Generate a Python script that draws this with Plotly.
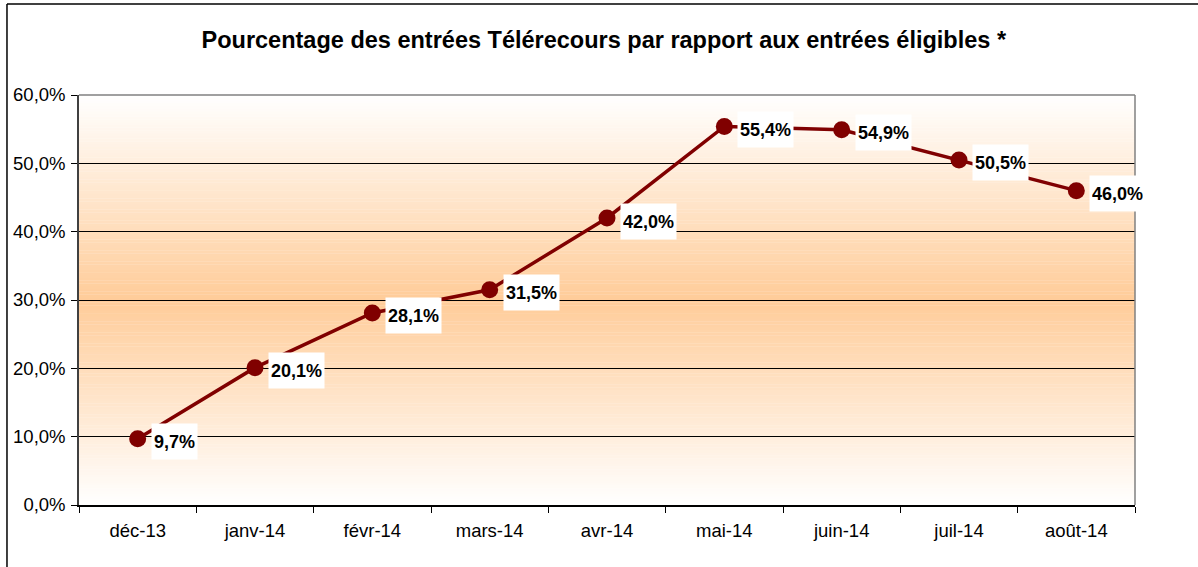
import plotly.graph_objects as go

categories = ["déc-13", "janv-14", "févr-14", "mars-14", "avr-14",
              "mai-14", "juin-14", "juil-14", "août-14"]
values = [0.097, 0.201, 0.281, 0.315, 0.420, 0.554, 0.549, 0.505, 0.460]
y_ticks = [0.0, 0.1, 0.2, 0.3, 0.4, 0.5, 0.6]
title_text = "Pourcentage des entrées Télérecours par rapport aux entrées éligibles *"

FONT = "Liberation Sans, Arial, sans-serif"

fig = go.Figure()
fig.add_trace(go.Scatter(
    x=categories, y=values, mode="lines+markers",
    line=dict(color="#800000", width=3.5),
    marker=dict(color="#800000", size=17),
    hoverinfo="skip", showlegend=False,
))

# gradient background: white at edges -> peach at middle
shapes = []
n = 150
for i in range(n):
    y0 = 0.6 * i / n
    y1 = 0.6 * (i + 1) / n
    mid = (y0 + y1) / 2
    t = 1 - abs(mid - 0.3) / 0.3
    r = 255
    g = round(255 - t * (255 - 204))
    b = round(255 - t * (255 - 153))
    shapes.append(dict(type="rect", xref="x domain", yref="y",
                       x0=0, x1=1, y0=y0, y1=y1 + 0.0005,
                       fillcolor=f"rgb({r},{g},{b})",
                       line=dict(width=0), layer="below"))
# outer frame (left and top)
shapes.append(dict(type="line", xref="paper", yref="paper",
                   x0=-0.0682, x1=-0.0682, y0=-0.2, y1=1.222,
                   line=dict(color="black", width=1.5)))
shapes.append(dict(type="line", xref="paper", yref="paper",
                   x0=-0.0682, x1=1.1, y0=1.222, y1=1.222,
                   line=dict(color="black", width=1.5)))
# plot area top/right border
shapes.append(dict(type="line", xref="paper", yref="paper",
                   x0=0, x1=1, y0=1, y1=1,
                   line=dict(color="#808080", width=1.5)))
shapes.append(dict(type="line", xref="paper", yref="paper",
                   x0=1, x1=1, y0=0, y1=1,
                   line=dict(color="#808080", width=1.5)))

annotations = []
for c, v in zip(categories, values):
    label = f"{v*100:.1f}%".replace(".", ",")
    annotations.append(dict(
        x=c, y=v, xref="x", yref="y", text=f"<b>{label}</b>",
        showarrow=False, xanchor="left", yanchor="middle",
        xshift=13, yshift=-3, bgcolor="white", borderpad=2, height=31,
        font=dict(family=FONT, size=18, color="black"),
    ))

fig.update_layout(
    width=1198, height=567,
    margin=dict(l=79, r=63, t=95, b=62),
    paper_bgcolor="white", plot_bgcolor="white",
    separators=", ",
    title=dict(text=f"<b>{title_text}</b>", x=0.504, xanchor="center",
               y=0.929, yanchor="middle",
               font=dict(family=FONT, size=23.5, color="black")),
    shapes=shapes, annotations=annotations,
    font=dict(family=FONT, size=18.5, color="black"),
)
fig.update_xaxes(
    type="category", tickson="boundaries", ticks="outside", ticklen=6,
    tickcolor="black", showline=True, linecolor="black", linewidth=1.5,
    showgrid=False, tickfont=dict(family=FONT, size=18.5, color="black"),
    range=[-0.5, len(categories) - 0.5], fixedrange=True,
    ticklabelstandoff=8,
)
fig.update_yaxes(
    range=[0, 0.6], tickvals=y_ticks, tickformat=".1%",
    ticks="outside", ticklen=6, tickcolor="black",
    showline=True, linecolor="#404040", linewidth=1.5,
    showgrid=True, gridcolor="black", gridwidth=1, zeroline=False,
    tickfont=dict(family=FONT, size=18.5, color="black"), fixedrange=True,
    ticklabelstandoff=2,
)

fig.write_html("out.html", config={"displayModeBar": False},
               post_script="document.body.style.margin='0';")
